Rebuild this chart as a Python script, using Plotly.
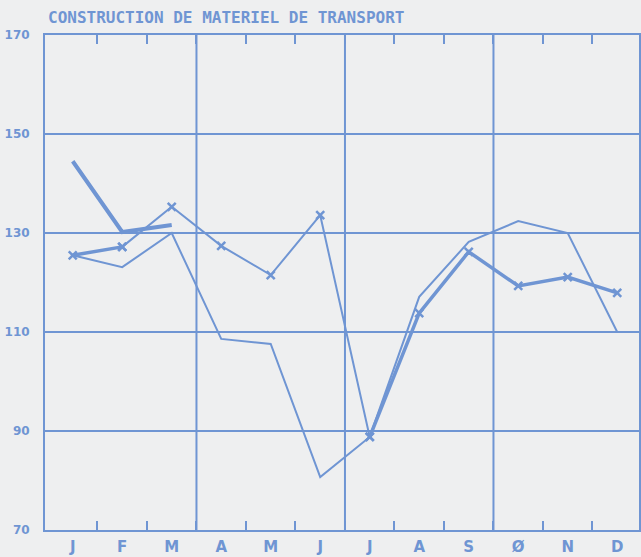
import plotly.graph_objects as go

BLUE = "#6f95d3"
BG = "#eeeff0"

months = ["J", "F", "M", "A", "M", "J", "J", "A", "S", "\u00d8", "N", "D"]
month_pos = list(range(1, 13))

# thin line, no markers
serie_a = [125.5, 123.1, 130.0, 108.6, 107.6, 80.7, 88.8, 117.1, 128.2, 132.4, 130.0, 110.0]
# line with markers (thick at start and second half, thin in between)
serie_b_thick = [125.5, 127.2, None, None, None, None, 88.8, 113.8, 126.2, 119.3, 121.1, 117.9]
serie_b_thin = [None, 127.2, 135.3, 127.4, 121.5, 133.6, 88.8, None, None, None, None, None]
# short thick line, first three months
serie_c = [144.5, 130.2, 131.6]

y_ticks = [70, 90, 110, 130, 150, 170]
quarter_lines = [3.5, 6.5, 9.5]

fig = go.Figure()

fig.add_trace(go.Scatter(x=month_pos, y=serie_a, mode="lines",
                         line=dict(color=BLUE, width=2)))
fig.add_trace(go.Scatter(x=month_pos, y=serie_b_thin, mode="lines+markers",
                         line=dict(color=BLUE, width=2),
                         marker=dict(symbol="x-thin", size=8, line=dict(color=BLUE, width=2.5))))
fig.add_trace(go.Scatter(x=month_pos, y=serie_b_thick, mode="lines+markers",
                         line=dict(color=BLUE, width=3.5),
                         marker=dict(symbol="x-thin", size=8, line=dict(color=BLUE, width=2.5))))
fig.add_trace(go.Scatter(x=month_pos[:3], y=serie_c, mode="lines",
                         line=dict(color=BLUE, width=4)))

for q in quarter_lines:
    fig.add_shape(type="line", x0=q, x1=q, y0=0, y1=1, xref="x", yref="paper",
                  line=dict(color=BLUE, width=2), layer="below")

fig.update_layout(
    width=641, height=557,
    margin=dict(l=45, r=0, t=35, b=27),
    paper_bgcolor=BG, plot_bgcolor=BG,
    showlegend=False,
    font=dict(family="DejaVu Sans, sans-serif", color=BLUE, weight="bold"),
    annotations=[dict(text="CONSTRUCTION DE MATERIEL DE TRANSPORT",
                      x=0, y=1, xref="paper", yref="paper",
                      xanchor="left", yanchor="bottom", yshift=6, xshift=1,
                      showarrow=False,
                      font=dict(size=16, family="DejaVu Sans Mono, monospace",
                                color=BLUE, weight="bold"))],
)

fig.update_xaxes(
    range=[0.44, 12.44], tickvals=month_pos, ticktext=months, ticks="",
    tickfont=dict(size=15, color=BLUE, family="DejaVu Sans, sans-serif"),
    ticklabelstandoff=2,
    showgrid=False, zeroline=False,
    showline=True, linecolor=BLUE, linewidth=2, mirror="ticks",
    minor=dict(tickvals=[m + 0.5 for m in month_pos[:-1]], ticks="inside",
               ticklen=9, tickwidth=2, tickcolor=BLUE, showgrid=False),
)
fig.update_yaxes(
    range=[70, 170], tickvals=y_ticks, ticks="",
    tickfont=dict(size=12, color=BLUE), ticklabelstandoff=11,
    showgrid=True, gridcolor=BLUE, gridwidth=2, zeroline=False,
    showline=True, linecolor=BLUE, linewidth=2, mirror=True,
)

fig.write_html("out.html", config={"displayModeBar": False},
               post_script="document.body.style.margin='0';")
